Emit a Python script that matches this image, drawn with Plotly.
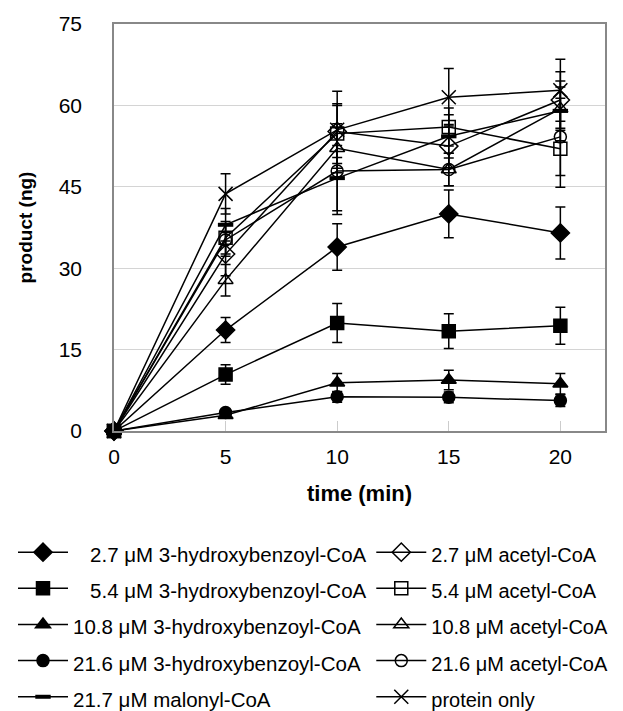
import plotly.graph_objects as go

time = [0, 5, 10, 15, 20]

hb27 = [0, 18.6, 33.9, 40.0, 36.5]
hb27_err = [0, 2.3, 4.3, 4.4, 4.8]
hb54 = [0, 10.4, 19.9, 18.4, 19.4]
hb54_err = [0, 1.8, 3.6, 3.2, 3.4]
hb108 = [0, 2.9, 8.9, 9.4, 8.7]
hb108_err = [0, 0.5, 1.7, 1.8, 1.9]
hb216 = [0, 3.4, 6.3, 6.2, 5.6]
hb216_err = [0, 0.5, 1.0, 1.0, 1.1]
ac27 = [0, 32.6, 55.2, 52.5, 61.0]
ac27_err = [0, 4.0, 4.8, 4.0, 5.2]
ac54 = [0, 35.6, 54.8, 56.0, 52.0]
ac54_err = [0, 3.0, 5.5, 3.5, 7.1]
ac108 = [0, 27.8, 52.1, 48.2, 59.4]
ac108_err = [0, 2.9, 4.5, 3.0, 4.0]
ac216 = [0, 35.2, 47.9, 48.2, 54.2]
ac216_err = [0, 3.0, 8.0, 3.0, 7.1]
mal = [0, 38.0, 46.6, 54.3, 59.0]
mal_err = [0, 3.0, 6.0, 4.0, 5.5]
prot = [0, 43.7, 55.5, 61.5, 62.8]
prot_err = [0, 3.7, 7.1, 5.3, 5.7]

PAD = "\u00a0\u00a0\u00a0"
# (name, values, errors, symbol, size, legend, rank, legend font px)
specs = [
    (PAD + "2.7 μM 3-hydroxybenzoyl-CoA", hb27, hb27_err, "diamond", 14, "legend", 1, 20.5),
    ("2.7 μM acetyl-CoA", ac27, ac27_err, "diamond-open", 14, "legend2", 1, 20),
    ("5.4 μM acetyl-CoA", ac54, ac54_err, "square-open", 13, "legend2", 2, 20),
    ("10.8 μM 3-hydroxybenzoyl-CoA", hb108, hb108_err, "triangle-up", 13, "legend", 3, 20.5),
    ("10.8 μM acetyl-CoA", ac108, ac108_err, "triangle-up-open", 13, "legend2", 3, 20),
    ("21.6 μM 3-hydroxybenzoyl-CoA", hb216, hb216_err, "circle", 12, "legend", 4, 20.5),
    ("21.6 μM acetyl-CoA", ac216, ac216_err, "circle-open", 12, "legend2", 4, 20),
    ("21.7 μM malonyl-CoA", mal, mal_err, "line-ew", 11, "legend", 5, 20.5),
    ("protein only", prot, prot_err, "x-thin", 14, "legend2", 5, 20),
    (PAD + "5.4 μM 3-hydroxybenzoyl-CoA", hb54, hb54_err, "square", 13, "legend", 2, 20.5),
]

fig = go.Figure()
for nm, ys, er, sym, sz, lg, rk, fs in specs:
    mline = dict(color="black", width=1.5)
    if sym == "line-ew":
        mline = dict(color="black", width=4)
    fig.add_trace(go.Scatter(
        x=time, y=ys, name='<span style="font-size:%spx">%s</span>' % (fs, nm),
        mode="lines+markers", legend=lg, legendrank=rk,
        line=dict(color="black", width=1.5),
        marker=dict(symbol=sym, size=sz, color="black", line=mline),
        error_y=dict(type="data", array=er, visible=True, color="black",
                     thickness=1.5, width=5),
        cliponaxis=False,
    ))

font = "Liberation Sans, Arial, sans-serif"
leg_common = dict(
    orientation="v", yanchor="top", xanchor="left", y=-0.241,
    font=dict(size=25.5, family=font, color="black"),
    itemwidth=50, tracegroupgap=0, bgcolor="rgba(0,0,0,0)", borderwidth=0,
)
fig.update_layout(
    width=623, height=711,
    margin=dict(l=106, r=26, t=16, b=288, autoexpand=False),
    paper_bgcolor="white", plot_bgcolor="white",
    font=dict(family=font, color="black", size=21),
    showlegend=True,
    legend=dict(x=-0.2057, **leg_common),
    legend2=dict(x=0.524, **leg_common),
    xaxis=dict(
        range=[0, 22], tickvals=[0, 5, 10, 15, 20], ticktext=["0", "5", "10", "15", "20"],
        showgrid=False, zeroline=False, showline=True, linecolor="#888", linewidth=1.5,
        mirror=True, ticks="inside", ticklen=10, tickcolor="#ccc", tickwidth=1,
        tickfont=dict(size=21), ticklabelstandoff=6, automargin=False,
        title=dict(text="<b>time (min)</b>", font=dict(size=22), standoff=19),
    ),
    yaxis=dict(
        range=[0, 75], tickvals=[0, 15, 30, 45, 60, 75],
        showgrid=True, gridcolor="#d4d4d4", gridwidth=1, zeroline=False,
        showline=True, linecolor="#888", linewidth=1.5, mirror=True,
        ticks="", tickfont=dict(size=21), ticklabelstandoff=26, automargin=False,
        title=dict(text="<b>product (ng)</b>", font=dict(size=19), standoff=21),
    ),
)
fig.write_html("out.html")
